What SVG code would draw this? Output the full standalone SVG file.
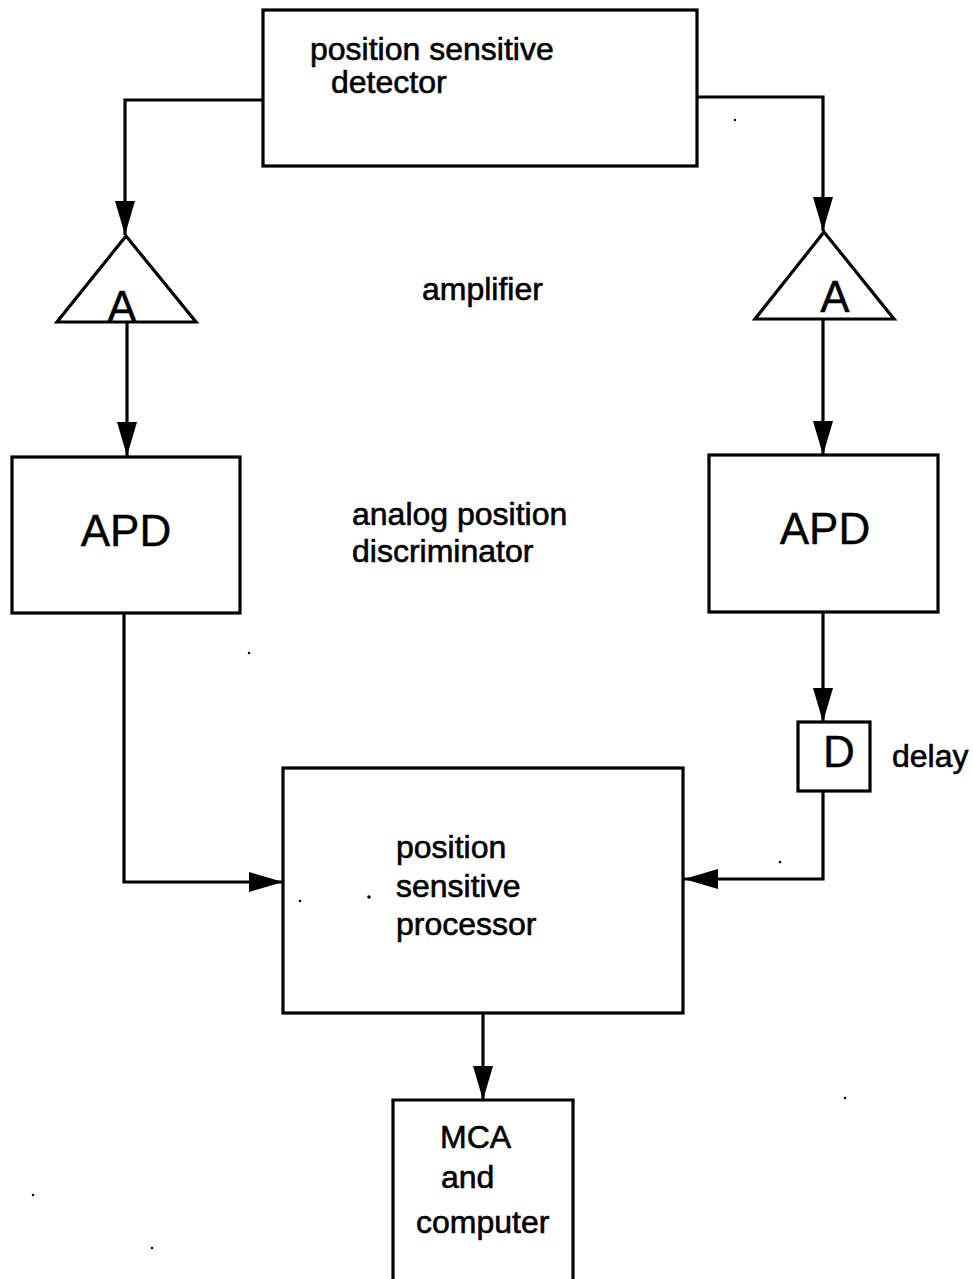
<svg xmlns="http://www.w3.org/2000/svg" width="973" height="1279" viewBox="0 0 973 1279">
<style>
.box{fill:#fff;stroke:#000;stroke-width:3.2}
.ln{fill:none;stroke:#000;stroke-width:3.2}
.t{font-family:"Liberation Sans",Arial,sans-serif;font-size:32px;fill:#000;stroke:#000;stroke-width:0.6}
.big{font-family:"Liberation Sans",Arial,sans-serif;font-size:44px;fill:#000;stroke:#000;stroke-width:0.4}
.dot{fill:#000}
</style>
<defs>
<marker id="ah" markerUnits="userSpaceOnUse" markerWidth="36" markerHeight="22" refX="34" refY="10" orient="auto">
<path d="M0,0 L34,10 L0,20 Z" fill="#000"/>
</marker>
</defs>
<rect width="973" height="1279" fill="#fff"/>
<g id="connectors">
<path class="ln" d="M263,100 H125 V235" marker-end="url(#ah)"/>
<path class="ln" d="M697,97 H823 V231" marker-end="url(#ah)"/>
<path class="ln" d="M127,322 V456" marker-end="url(#ah)"/>
<path class="ln" d="M823,319 V455" marker-end="url(#ah)"/>
<path class="ln" d="M124,613 V882 H283" marker-end="url(#ah)"/>
<path class="ln" d="M823,612 V722" marker-end="url(#ah)"/>
<path class="ln" d="M823,791 V879 H684" marker-end="url(#ah)"/>
<path class="ln" d="M483,1013 V1100" marker-end="url(#ah)"/>
</g>
<g id="detector">
<rect class="box" x="263" y="10" width="434" height="156"/>
<text class="t" x="310" y="60">position sensitive</text>
<text class="t" x="331" y="93">detector</text>
</g>
<g id="amp-left">
<path class="box" d="M126,236 L57,322 L196,322 Z"/>
<text class="big" x="122" y="322" text-anchor="middle" font-size="42">A</text>
</g>
<g id="amp-right">
<path class="box" d="M824,232 L755,319 L894,319 Z"/>
<text class="big" x="835" y="312" text-anchor="middle" font-size="42">A</text>
</g>
<g id="amplifier-label">
<text class="t" x="422" y="300">amplifier</text>
</g>
<g id="apd-left">
<rect class="box" x="12" y="457" width="228" height="156"/>
<text class="big" x="126" y="546" text-anchor="middle">APD</text>
</g>
<g id="apd-right">
<rect class="box" x="709" y="455" width="229" height="157"/>
<text class="big" x="825" y="544" text-anchor="middle">APD</text>
</g>
<g id="apd-label">
<text class="t" x="352" y="525">analog position</text>
<text class="t" x="352" y="562">discriminator</text>
</g>
<g id="delay">
<rect class="box" x="798" y="722" width="72" height="69"/>
<text class="big" x="839" y="767" text-anchor="middle">D</text>
<text class="t" x="892" y="767">delay</text>
</g>
<g id="processor">
<rect class="box" x="283" y="768" width="400" height="245"/>
<text class="t" x="396" y="858">position</text>
<text class="t" x="396" y="897">sensitive</text>
<text class="t" x="396" y="935">processor</text>
</g>
<g id="mca">
<path class="ln" d="M393,1285 V1100 H573 V1285"/>
<text class="t" x="440" y="1148">MCA</text>
<text class="t" x="441" y="1188">and</text>
<text class="t" x="416" y="1233">computer</text>
</g>
<g id="specks">
<circle class="dot" cx="249" cy="653" r="1.3"/>
<circle class="dot" cx="300" cy="901" r="1.3"/>
<circle class="dot" cx="369" cy="897" r="1.8"/>
<circle class="dot" cx="780" cy="862" r="1.3"/>
<circle class="dot" cx="735" cy="120" r="1.2"/>
<circle class="dot" cx="845" cy="1098" r="1.3"/>
<circle class="dot" cx="33" cy="1195" r="1.3"/>
<circle class="dot" cx="152" cy="1248" r="1.3"/>
</g>
</svg>
